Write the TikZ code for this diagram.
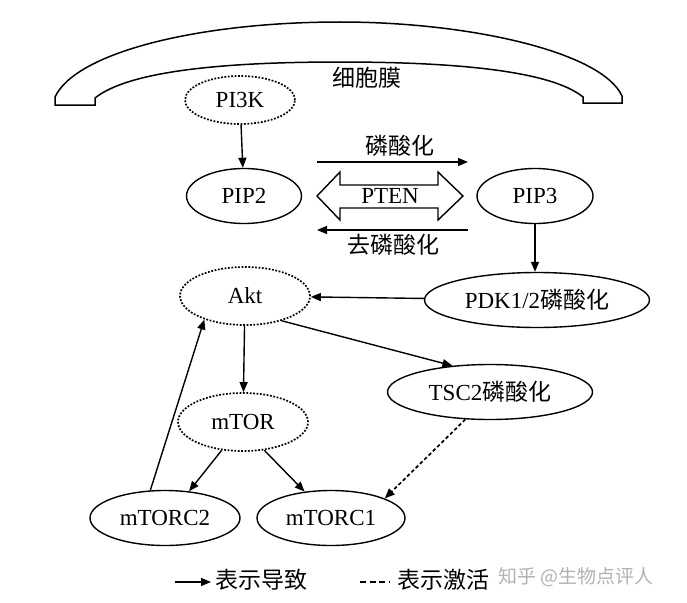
\documentclass[tikz,border=0pt]{standalone}
\usepackage{fontspec}
\setmainfont{Liberation Serif}
\newfontfamily\cjk{Noto Sans CJK SC}
\newcommand{\zh}[1]{{\cjk\fontsize{23}{26}\selectfont #1}}
\usetikzlibrary{shapes.geometric,arrows.meta}
\begin{document}
\begin{tikzpicture}[x=1pt,y=-1pt,
  every node/.style={font=\fontsize{23}{25}\selectfont},
  ell/.style={ellipse,draw,line width=1.4pt,inner sep=0pt},
  dotell/.style={ell,dash pattern=on 1.8pt off 1.6pt,line width=1.7pt},
  arr/.style={line width=1.4pt,-{Triangle[length=10pt,width=8pt]}},
  darr/.style={arr,dash pattern=on 3.5pt off 2.5pt,line width=1.7pt}]
\useasboundingbox (0,0) rectangle (687,602);
% membrane
\draw[line width=1.5pt,fill=white] (55,105) -- (95,105) -- (95,98)
  .. controls (130,70) and (230,62) .. (340,62)
  .. controls (450,62) and (550,70) .. (583,97) -- (583,103) -- (622,103) -- (622,96)
  .. controls (602,52) and (470,22) .. (340,22)
  .. controls (200,22) and (76,52) .. (55,97) -- cycle;
\node (mem) at (367,78) {\zh{细胞膜}};
% nodes
\node[dotell,minimum width=110pt,minimum height=48pt] (pi3k) at (240,100) {PI3K};
\node[ell,minimum width=115pt,minimum height=55pt] (pip2) at (244,196) {PIP2};
\node[ell,minimum width=116pt,minimum height=55pt] (pip3) at (535,196) {PIP3};
\node[dotell,minimum width=130pt,minimum height=58pt] (akt) at (245,296) {Akt};
\node[ell,minimum width=225pt,minimum height=55pt] (pdk) at (537,300) {PDK1/2\zh{磷酸化}};
\node[ell,minimum width=205pt,minimum height=55pt] (tsc) at (490,392) {TSC2\zh{磷酸化}};
\node[dotell,minimum width=130pt,minimum height=58pt] (mtor) at (243,422) {mTOR};
\node[ell,minimum width=150pt,minimum height=55pt] (c2) at (165,518) {mTORC2};
\node[ell,minimum width=148pt,minimum height=55pt] (c1) at (331,518) {mTORC1};
% PTEN double arrow
\draw[line width=1.4pt] (317,196) -- (340,172) -- (340,185) -- (438,185) -- (438,172) -- (463,196)
  -- (438,220) -- (438,208) -- (340,208) -- (340,220) -- cycle;
\node (pten) at (390,196) {PTEN};
% phosphorylation arrows
\coordinate (p1) at (317,162); \coordinate (p2) at (468,162);
\coordinate (q1) at (468,230); \coordinate (q2) at (317,230);
\draw[arr] (p1) -- (p2);
\draw[arr] (q1) -- (q2);
\node (lp) at (400,146) {\zh{磷酸化}};
\node (lq) at (393,245) {\zh{去磷酸化}};
% connectors
\draw[arr] (pi3k) -- (pip2);
\draw[arr] (pip3.south) -- (pip3.south |- pdk.north);
\draw[arr] (pdk) -- (akt);
\draw[arr] (akt.-34) -- (tsc.145);
\draw[arr] (akt) -- (mtor);
\draw[arr] (mtor.-127) -- (c2.48);
\draw[arr] (mtor.-53) -- (c1.135);
\draw[arr] (c2.118) -- (akt.-150);
\draw[darr] (tsc.-132) -- (c1.20);
% legend
\coordinate (l1) at (175,582); \coordinate (l2) at (211,582);
\draw[arr] (l1) -- (l2);
\node[anchor=west,inner sep=0pt] (lt1) at (215,580) {\zh{表示导致}};
\coordinate (l3) at (360,582); \coordinate (l4) at (389,582);
\draw[line width=1.7pt,dash pattern=on 6pt off 3.5pt] (l3) -- (l4);
\node[anchor=west,inner sep=0pt] (lt2) at (397,580) {\zh{表示激活}};
\node[font=\cjk\fontsize{19}{22}\selectfont,text=black!30,anchor=west,inner sep=0pt] (wm) at (498,577) {知乎 @生物点评人};
\end{tikzpicture}
\end{document}
